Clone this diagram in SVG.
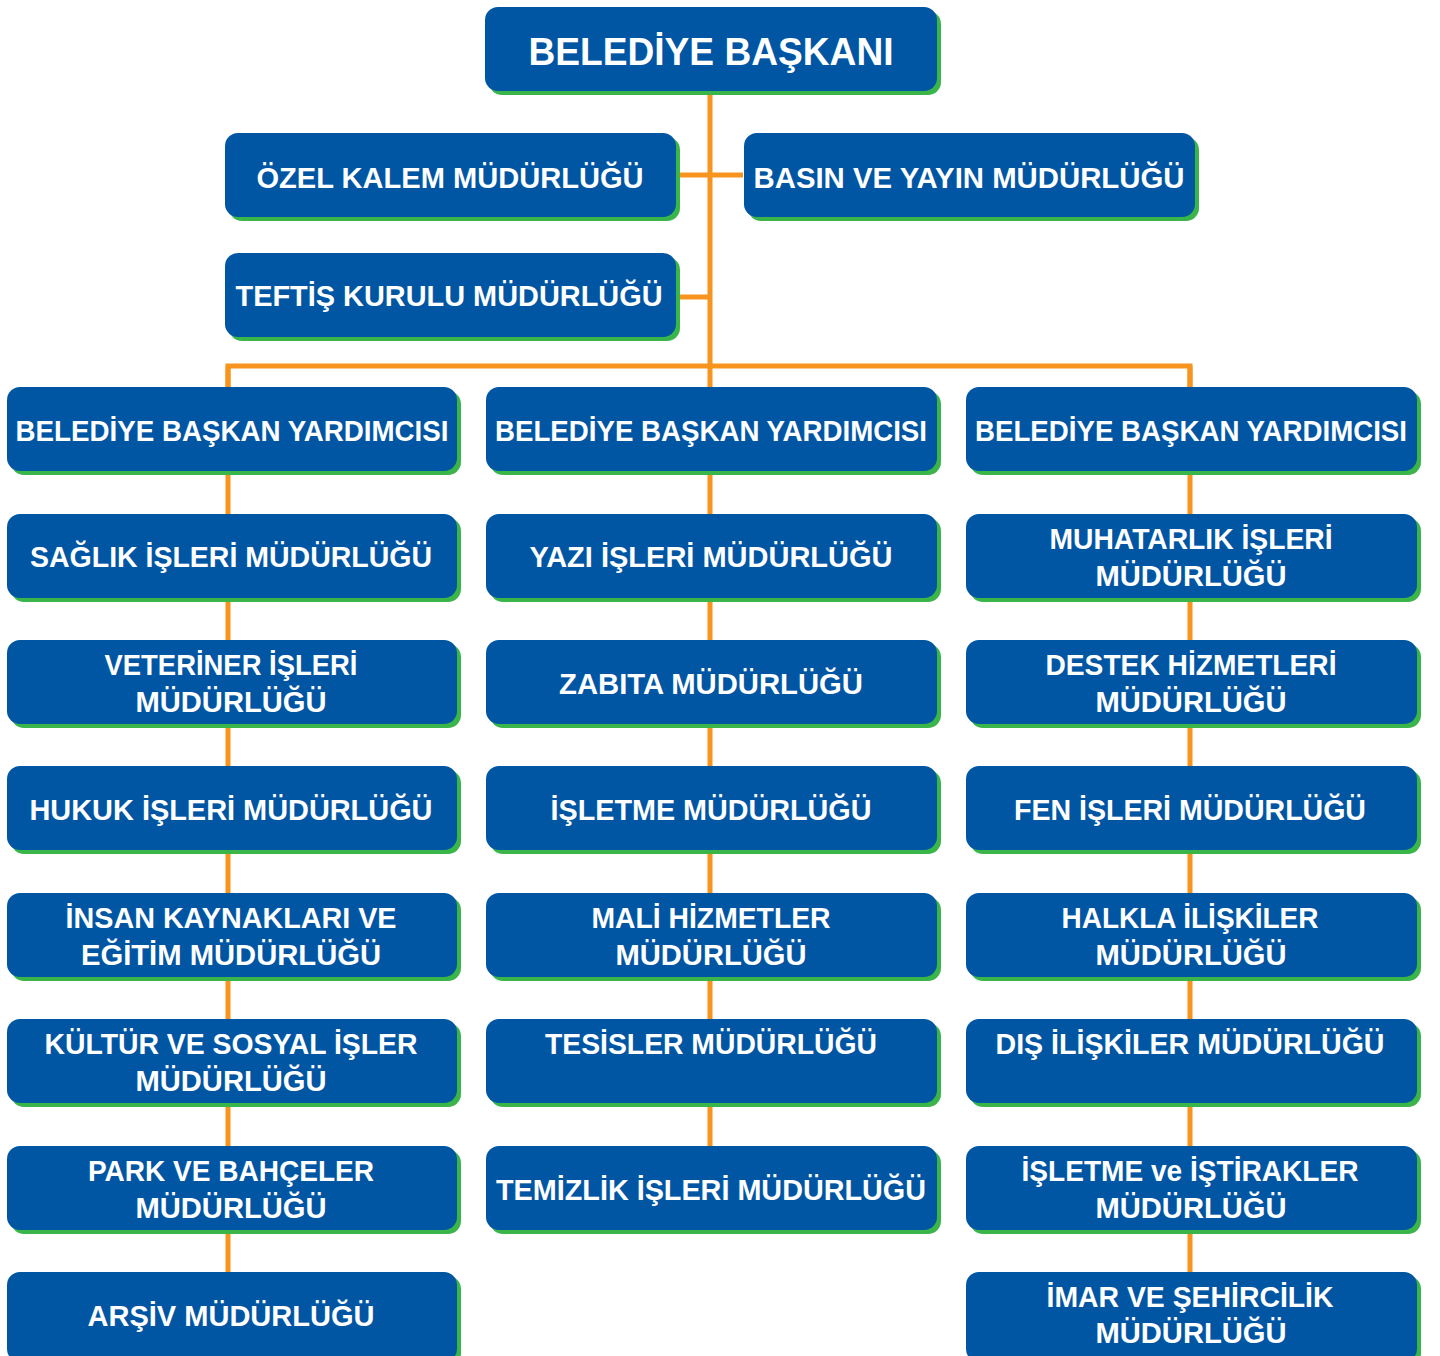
<svg xmlns="http://www.w3.org/2000/svg" width="1440" height="1356" viewBox="0 0 1440 1356">
<defs>
<style>
.sh{fill:#39B54A}
.bx{fill:#0156A4}
.t{font-family:"Liberation Sans",Arial,sans-serif;font-weight:bold;font-size:29px;fill:#FFFFFF;text-anchor:middle}
.tt{font-size:39px}
.ln{stroke:#F7941D;stroke-width:5;fill:none}
</style>
</defs>
<rect width="1440" height="1356" fill="#FFFFFF"/>
<g id="connectors">
<path class="ln" d="M710 92 V1146"/>
<path class="ln" d="M676 175 H743"/>
<path class="ln" d="M676 297 H710"/>
<path class="ln" d="M228 387 V366 H1190 V387"/>
<path class="ln" d="M228 366 V1272"/>
<path class="ln" d="M1190 366 V1272"/>
</g>
<g id="baskan"><rect class="sh" x="489" y="11" width="452" height="84" rx="13"/><rect class="bx" x="485" y="7" width="452" height="84" rx="13"/><text class="t tt" x="711" y="65" textLength="365" lengthAdjust="spacingAndGlyphs">BELEDİYE BAŞKANI</text></g>
<g id="ozel-kalem"><rect class="sh" x="229" y="137" width="451" height="84" rx="13"/><rect class="bx" x="225" y="133" width="451" height="84" rx="13"/><text class="t" x="450" y="188" textLength="387" lengthAdjust="spacingAndGlyphs">ÖZEL KALEM MÜDÜRLÜĞÜ</text></g>
<g id="basin-yayin"><rect class="sh" x="748" y="137" width="451" height="84" rx="13"/><rect class="bx" x="744" y="133" width="451" height="84" rx="13"/><text class="t" x="969" y="188" textLength="431" lengthAdjust="spacingAndGlyphs">BASIN VE YAYIN MÜDÜRLÜĞÜ</text></g>
<g id="teftis"><rect class="sh" x="229" y="257" width="451" height="84" rx="13"/><rect class="bx" x="225" y="253" width="451" height="84" rx="13"/><text class="t" x="449" y="306" textLength="427" lengthAdjust="spacingAndGlyphs">TEFTİŞ KURULU MÜDÜRLÜĞÜ</text></g>

<g id="byard-1"><rect class="sh" x="11" y="391" width="450" height="84" rx="13"/><rect class="bx" x="7" y="387" width="450" height="84" rx="13"/><text class="t" x="232" y="441" textLength="433" lengthAdjust="spacingAndGlyphs">BELEDİYE BAŞKAN YARDIMCISI</text></g>
<g id="saglik"><rect class="sh" x="11" y="518" width="450" height="84" rx="13"/><rect class="bx" x="7" y="514" width="450" height="84" rx="13"/><text class="t" x="231" y="567" textLength="402" lengthAdjust="spacingAndGlyphs">SAĞLIK İŞLERİ MÜDÜRLÜĞÜ</text></g>
<g id="veteriner"><rect class="sh" x="11" y="644" width="450" height="84" rx="13"/><rect class="bx" x="7" y="640" width="450" height="84" rx="13"/><text class="t" x="231" y="675" textLength="253" lengthAdjust="spacingAndGlyphs">VETERİNER İŞLERİ</text><text class="t" x="231" y="712" textLength="191" lengthAdjust="spacingAndGlyphs">MÜDÜRLÜĞÜ</text></g>
<g id="hukuk"><rect class="sh" x="11" y="770" width="450" height="84" rx="13"/><rect class="bx" x="7" y="766" width="450" height="84" rx="13"/><text class="t" x="231" y="820" textLength="403" lengthAdjust="spacingAndGlyphs">HUKUK İŞLERİ MÜDÜRLÜĞÜ</text></g>
<g id="insan-kaynaklari"><rect class="sh" x="11" y="897" width="450" height="84" rx="13"/><rect class="bx" x="7" y="893" width="450" height="84" rx="13"/><text class="t" x="231" y="928" textLength="331" lengthAdjust="spacingAndGlyphs">İNSAN KAYNAKLARI VE</text><text class="t" x="231" y="965" textLength="300" lengthAdjust="spacingAndGlyphs">EĞİTİM MÜDÜRLÜĞÜ</text></g>
<g id="kultur"><rect class="sh" x="11" y="1023" width="450" height="84" rx="13"/><rect class="bx" x="7" y="1019" width="450" height="84" rx="13"/><text class="t" x="231" y="1054" textLength="373" lengthAdjust="spacingAndGlyphs">KÜLTÜR VE SOSYAL İŞLER</text><text class="t" x="231" y="1091" textLength="191" lengthAdjust="spacingAndGlyphs">MÜDÜRLÜĞÜ</text></g>
<g id="park"><rect class="sh" x="11" y="1150" width="450" height="84" rx="13"/><rect class="bx" x="7" y="1146" width="450" height="84" rx="13"/><text class="t" x="231" y="1181" textLength="286" lengthAdjust="spacingAndGlyphs">PARK VE BAHÇELER</text><text class="t" x="231" y="1218" textLength="191" lengthAdjust="spacingAndGlyphs">MÜDÜRLÜĞÜ</text></g>
<g id="arsiv"><rect class="sh" x="11" y="1276" width="450" height="90" rx="13"/><rect class="bx" x="7" y="1272" width="450" height="90" rx="13"/><text class="t" x="231" y="1326" textLength="287" lengthAdjust="spacingAndGlyphs">ARŞİV MÜDÜRLÜĞÜ</text></g>

<g id="byard-2"><rect class="sh" x="490" y="391" width="451" height="84" rx="13"/><rect class="bx" x="486" y="387" width="451" height="84" rx="13"/><text class="t" x="711" y="441" textLength="432" lengthAdjust="spacingAndGlyphs">BELEDİYE BAŞKAN YARDIMCISI</text></g>
<g id="yazi"><rect class="sh" x="490" y="518" width="451" height="84" rx="13"/><rect class="bx" x="486" y="514" width="451" height="84" rx="13"/><text class="t" x="711" y="567" textLength="363" lengthAdjust="spacingAndGlyphs">YAZI İŞLERİ MÜDÜRLÜĞÜ</text></g>
<g id="zabita"><rect class="sh" x="490" y="644" width="451" height="84" rx="13"/><rect class="bx" x="486" y="640" width="451" height="84" rx="13"/><text class="t" x="711" y="694" textLength="304" lengthAdjust="spacingAndGlyphs">ZABITA MÜDÜRLÜĞÜ</text></g>
<g id="isletme"><rect class="sh" x="490" y="770" width="451" height="84" rx="13"/><rect class="bx" x="486" y="766" width="451" height="84" rx="13"/><text class="t" x="711" y="820" textLength="321" lengthAdjust="spacingAndGlyphs">İŞLETME MÜDÜRLÜĞÜ</text></g>
<g id="mali"><rect class="sh" x="490" y="897" width="451" height="84" rx="13"/><rect class="bx" x="486" y="893" width="451" height="84" rx="13"/><text class="t" x="711" y="928" textLength="239" lengthAdjust="spacingAndGlyphs">MALİ HİZMETLER</text><text class="t" x="711" y="965" textLength="191" lengthAdjust="spacingAndGlyphs">MÜDÜRLÜĞÜ</text></g>
<g id="tesisler"><rect class="sh" x="490" y="1023" width="451" height="84" rx="13"/><rect class="bx" x="486" y="1019" width="451" height="84" rx="13"/><text class="t" x="711" y="1054" textLength="332" lengthAdjust="spacingAndGlyphs">TESİSLER MÜDÜRLÜĞÜ</text></g>
<g id="temizlik"><rect class="sh" x="490" y="1150" width="451" height="84" rx="13"/><rect class="bx" x="486" y="1146" width="451" height="84" rx="13"/><text class="t" x="711" y="1200" textLength="430" lengthAdjust="spacingAndGlyphs">TEMİZLİK İŞLERİ MÜDÜRLÜĞÜ</text></g>

<g id="byard-3"><rect class="sh" x="970" y="391" width="451" height="84" rx="13"/><rect class="bx" x="966" y="387" width="451" height="84" rx="13"/><text class="t" x="1191" y="441" textLength="432" lengthAdjust="spacingAndGlyphs">BELEDİYE BAŞKAN YARDIMCISI</text></g>
<g id="muhtarlik"><rect class="sh" x="970" y="518" width="451" height="84" rx="13"/><rect class="bx" x="966" y="514" width="451" height="84" rx="13"/><text class="t" x="1191" y="549" textLength="283" lengthAdjust="spacingAndGlyphs">MUHATARLIK İŞLERİ</text><text class="t" x="1191" y="586" textLength="191" lengthAdjust="spacingAndGlyphs">MÜDÜRLÜĞÜ</text></g>
<g id="destek"><rect class="sh" x="970" y="644" width="451" height="84" rx="13"/><rect class="bx" x="966" y="640" width="451" height="84" rx="13"/><text class="t" x="1191" y="675" textLength="291" lengthAdjust="spacingAndGlyphs">DESTEK HİZMETLERİ</text><text class="t" x="1191" y="712" textLength="191" lengthAdjust="spacingAndGlyphs">MÜDÜRLÜĞÜ</text></g>
<g id="fen"><rect class="sh" x="970" y="770" width="451" height="84" rx="13"/><rect class="bx" x="966" y="766" width="451" height="84" rx="13"/><text class="t" x="1190" y="820" textLength="352" lengthAdjust="spacingAndGlyphs">FEN İŞLERİ MÜDÜRLÜĞÜ</text></g>
<g id="halkla"><rect class="sh" x="970" y="897" width="451" height="84" rx="13"/><rect class="bx" x="966" y="893" width="451" height="84" rx="13"/><text class="t" x="1190" y="928" textLength="257" lengthAdjust="spacingAndGlyphs">HALKLA İLİŞKİLER</text><text class="t" x="1191" y="965" textLength="191" lengthAdjust="spacingAndGlyphs">MÜDÜRLÜĞÜ</text></g>
<g id="dis-iliskiler"><rect class="sh" x="970" y="1023" width="451" height="84" rx="13"/><rect class="bx" x="966" y="1019" width="451" height="84" rx="13"/><text class="t" x="1190" y="1054" textLength="389" lengthAdjust="spacingAndGlyphs">DIŞ İLİŞKİLER MÜDÜRLÜĞÜ</text></g>
<g id="istirakler"><rect class="sh" x="970" y="1150" width="451" height="84" rx="13"/><rect class="bx" x="966" y="1146" width="451" height="84" rx="13"/><text class="t" x="1190" y="1181" textLength="337" lengthAdjust="spacingAndGlyphs">İŞLETME ve İŞTİRAKLER</text><text class="t" x="1191" y="1218" textLength="191" lengthAdjust="spacingAndGlyphs">MÜDÜRLÜĞÜ</text></g>
<g id="imar"><rect class="sh" x="970" y="1276" width="451" height="90" rx="13"/><rect class="bx" x="966" y="1272" width="451" height="90" rx="13"/><text class="t" x="1190" y="1307" textLength="287" lengthAdjust="spacingAndGlyphs">İMAR VE ŞEHİRCİLİK</text><text class="t" x="1191" y="1343" textLength="191" lengthAdjust="spacingAndGlyphs">MÜDÜRLÜĞÜ</text></g>
</svg>
